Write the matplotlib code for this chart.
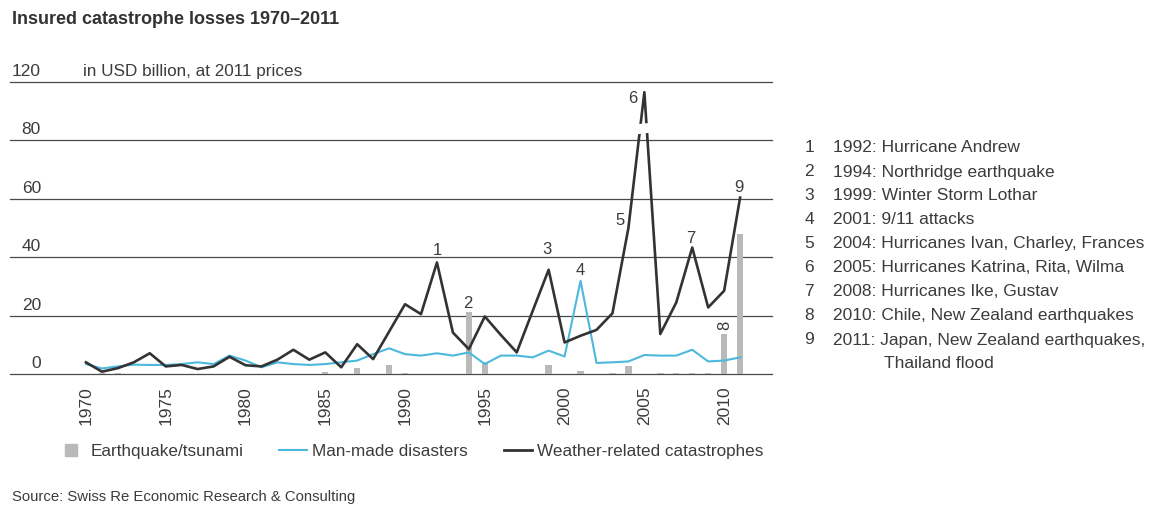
import numpy as np
import matplotlib
matplotlib.use("Agg")
import matplotlib.pyplot as plt
from matplotlib.lines import Line2D

# Insured losses by type of event, USD billion at 2011 prices
years = np.arange(1970, 2012)
weather = [4.0, 0.8, 2.0, 4.0, 7.1, 2.6, 3.1, 1.7, 2.6, 5.9,
           3.0, 2.6, 4.9, 8.3, 4.9, 7.4, 2.3, 10.2, 5.1, 14.5,
           23.9, 20.5, 38.2, 14.2, 8.5, 19.7, 13.4, 7.4, 21.6, 35.7,
           10.8, 13.1, 15.1, 20.8, 50.0, 113.0, 13.7, 24.5, 43.3, 22.8,
           28.5, 60.4]
man_made = [3.4, 1.9, 2.6, 3.2, 3.1, 3.1, 3.4, 4.0, 3.4, 6.3,
            4.6, 2.3, 4.0, 3.4, 3.1, 3.4, 4.0, 4.6, 6.8, 8.8,
            6.8, 6.3, 7.1, 6.3, 7.4, 3.4, 6.3, 6.3, 5.7, 8.0,
            6.0, 31.9, 3.8, 4.0, 4.3, 6.5, 6.3, 6.3, 8.3, 4.3,
            4.6, 5.7]
earthquake = [0.0, 0.4, 0.5, 0.0, 0.0, 0.0, 0.0, 0.0, 0.0, 0.0,
              0.0, 0.0, 0.0, 0.0, 0.0, 0.8, 0.0, 2.0, 0.0, 3.0,
              0.3, 0.0, 0.0, 0.0, 21.1, 4.0, 0.0, 0.0, 0.0, 3.1,
              0.0, 0.9, 0.0, 0.4, 2.8, 0.0, 0.4, 0.4, 0.5, 0.4,
              13.7, 47.9]

y_ticks = [0, 20, 40, 60, 80, 120]
x_ticks = [1970, 1975, 1980, 1985, 1990, 1995, 2000, 2005, 2010]

# numbered events: (number, year, series, label offset in pixels)
events = [(1, 1992, "weather", (0, 13)),
          (2, 1994, "quake", (-1, 10)),
          (3, 1999, "weather", (-2, 21)),
          (4, 2001, "man", (0, 11)),
          (5, 2004, "weather", (-8, 8)),
          (6, 2005, "weather", (-12, -5)),
          (7, 2008, "weather", (-1, 10)),
          (8, 2010, "quake", (1, 10)),
          (9, 2011, "weather", (-1, 11))]
event_notes = ["1992: Hurricane Andrew",
               "1994: Northridge earthquake",
               "1999: Winter Storm Lothar",
               "2001: 9/11 attacks",
               "2004: Hurricanes Ivan, Charley, Frances",
               "2005: Hurricanes Katrina, Rita, Wilma",
               "2008: Hurricanes Ike, Gustav",
               "2010: Chile, New Zealand earthquakes",
               "2011: Japan, New Zealand earthquakes,\nThailand flood"]

BLUE = "#4cb8dc"
DARK = "#333333"
GREY = "#b9b9b9"
TXT = "#3c3c3c"

plt.rcParams["font.family"] = ["Liberation Sans", "DejaVu Sans"]


# axis above 80 is squeezed to half so the 2005 peak fits
def squash(v):
    v = np.asarray(v, dtype=float)
    return np.where(v <= 80, v, 80 + (v - 80) / 2)


def unsquash(d):
    d = np.asarray(d, dtype=float)
    return np.where(d <= 80, d, 80 + (d - 80) * 2)


W, H = 1161, 506
fig = plt.figure(figsize=(W / 100, H / 100), dpi=100)
ax = fig.add_axes([10 / W, 1 - 375 / H, 762 / W, 292 / H])
ax.set_yscale("function", functions=(squash, unsquash))
ax.set_xlim(1965.24, 2013.0)
ax.set_ylim(0, 120)

for v in y_ticks:
    ax.axhline(v, color="#4a4a4a", lw=0.9, zorder=1, clip_on=False)
    ax.annotate(str(v), xy=(0, v), xycoords=("axes fraction", "data"),
                xytext=(31, 4), textcoords="offset pixels",
                ha="right", va="bottom", fontsize=12.5, color=TXT)
ax.annotate("in USD billion, at 2011 prices", xy=(0, 120),
            xycoords=("axes fraction", "data"), xytext=(73, 4),
            textcoords="offset pixels", ha="left", va="bottom",
            fontsize=12.3, color=TXT)

ax.bar(years, earthquake, width=0.4, color=GREY, zorder=2)
ax.plot(years, man_made, color=BLUE, lw=1.5, zorder=3)
ax.plot(years, weather, color=DARK, lw=1.9, zorder=4)

# axis break drawn across the 2005 spike
peak = years[int(np.argmax(weather))]
ax.fill([peak - 0.6, peak + 0.6, peak + 0.6, peak - 0.6],
        [84.0, 85.6, 92.2, 91.0], color="white", lw=0, zorder=5)

series = {"weather": weather, "man": man_made, "quake": earthquake}
for num, yr, key, (dx, dy) in events:
    val = series[key][yr - 1970]
    ax.annotate(str(num), xy=(yr, val), xytext=(dx, dy),
                textcoords="offset pixels", ha="center", va="center",
                fontsize=12, color=TXT, rotation=90 if num == 8 else 0,
                zorder=6)

ax.set_xticks(x_ticks)
ax.set_xticklabels([str(x) for x in x_ticks], rotation=90, fontsize=12.5,
                   color=TXT)
ax.tick_params(axis="x", length=0, pad=8)
ax.set_yticks([])
ax.yaxis.set_minor_locator(matplotlib.ticker.NullLocator())
for s in ax.spines.values():
    s.set_visible(False)

fig.text(12 / W, 1 - 20 / H, "Insured catastrophe losses 1970\u20132011",
         fontsize=13, fontweight="bold", color=DARK, va="center")

handles = [Line2D([], [], marker="s", ls="none", color=GREY, markersize=8),
           Line2D([], [], color=BLUE, lw=1.5),
           Line2D([], [], color=DARK, lw=2)]
fig.legend(handles, ["Earthquake/tsunami", "Man-made disasters",
                     "Weather-related catastrophes"],
           loc="center left", bbox_to_anchor=(57 / W, 1 - 452 / H), ncol=3,
           frameon=False, handlelength=1.65, handletextpad=0.3,
           columnspacing=2.1, borderaxespad=0, borderpad=0,
           prop={"size": 12.3}, labelcolor=TXT)

fig.text(12 / W, 1 - 497 / H, "Source: Swiss Re Economic Research & Consulting",
         fontsize=10.7, color=TXT, va="center")

# numbered list of the major events
row = 0
for i, note in enumerate(event_notes, 1):
    y = 1 - (148 + 24 * row) / H
    fig.text(809 / W, y, str(i), fontsize=12.5, color=TXT, ha="center", va="center")
    lines = note.split("\n")
    fig.text(833 / W, y, lines[0], fontsize=12.5, color=TXT, va="center")
    for extra in lines[1:]:
        row += 1
        fig.text(884 / W, 1 - (148 + 24 * row) / H, extra, fontsize=12.5,
                 color=TXT, va="center")
    row += 1

fig.savefig("out.png", dpi=100, facecolor="white")
